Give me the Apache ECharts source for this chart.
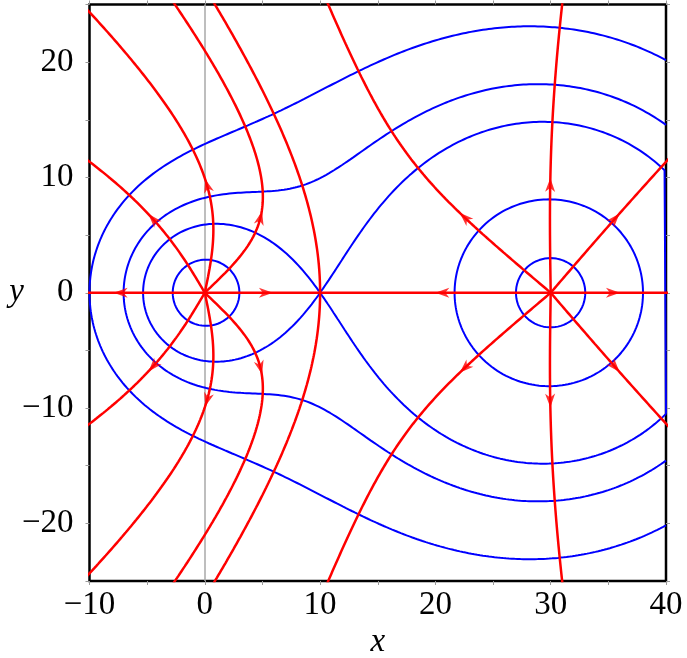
<!DOCTYPE html>
<html><head><meta charset="utf-8">
<script src="https://cdn.jsdelivr.net/npm/echarts@6/dist/echarts.min.js"></script>
<style>html,body{margin:0;padding:0;background:#fff}#c{width:687px;height:658px}</style>
</head><body><div id="c"></div>
<script>
// ---- data ----
// point charges (3D Coulomb field): positions on the x-axis and strengths
const chargeX = [0, 30];
const chargeY = [0, 0];
const chargeQ = [1, 4];
// equipotential levels; which charge's loop to keep (-1 = all loops); closed along right frame
const contourLevels = [0.2, 0.25, 0.3, 0.4815, 0.526, 1.365];
const contourAround = [-1, -1, -1, 0, 1, 1];
const contourCloseRight = [false, false, true, false, false, false];
// field lines (upper half, mirrored): source charge index, start angle (deg), arrow arc position
const lineCharge = [0, 0, 0, 0, 0, 1, 1, 1, 1, 1];
const lineAngle = [0, 43.7, 78.3, 120.55, 180, 0, 49.35, 90.9, 139.7, 180];
const lineArrow = [5.3, 8.2, 9.4, 7.8, 7.3, 5.4, 8.5, 9.35, 9.9, 9.4];
// axes
const xRange = [-10, 40];
const yRange = [-25, 25];
const xTickLabels = [-10, 0, 10, 20, 30, 40];
const yTickLabels = [-20, -10, 0, 10, 20];

// ---- physics helpers ----
function potential(x, y) {
  let v = 0;
  for (let i = 0; i < chargeQ.length; i++) {
    const r = Math.hypot(x - chargeX[i], y - chargeY[i]);
    v += chargeQ[i] / Math.max(r, 1e-6);
  }
  return v;
}
function dir(x, y) {
  let ex = 0, ey = 0;
  for (let i = 0; i < chargeQ.length; i++) {
    const dx = x - chargeX[i], dy = y - chargeY[i];
    const r2 = dx * dx + dy * dy, r = Math.sqrt(r2);
    const f = chargeQ[i] / (r2 * r);
    ex += f * dx; ey += f * dy;
  }
  const m = Math.hypot(ex, ey) || 1e-30;
  return [ex / m, ey / m];
}
function trace(x, y) {
  const h = 0.02;
  const pts = [[x, y]];
  let prev = dir(x, y);
  for (let n = 0; n < 8000; n++) {
    const k1 = prev;
    const k2 = dir(x + h / 2 * k1[0], y + h / 2 * k1[1]);
    const k3 = dir(x + h / 2 * k2[0], y + h / 2 * k2[1]);
    const k4 = dir(x + h * k3[0], y + h * k3[1]);
    const nx = x + h / 6 * (k1[0] + 2 * k2[0] + 2 * k3[0] + k4[0]);
    const ny = y + h / 6 * (k1[1] + 2 * k2[1] + 2 * k3[1] + k4[1]);
    const d = dir(nx, ny);
    if (d[0] * prev[0] + d[1] * prev[1] < 0) { pts.push([nx, ny]); break; }
    x = nx; y = ny; prev = d;
    if (n % 3 === 2) pts.push([x, y]);
    if (x < xRange[0] - 0.5 || x > xRange[1] + 0.5 || y < yRange[0] - 0.5 || y > yRange[1] + 0.5) { pts.push([x, y]); break; }
  }
  return pts;
}
function pointAt(pts, s) {
  let acc = 0;
  for (let i = 1; i < pts.length; i++) {
    const dx = pts[i][0] - pts[i - 1][0], dy = pts[i][1] - pts[i - 1][1];
    const l = Math.hypot(dx, dy);
    if (acc + l >= s) {
      const t = (s - acc) / l;
      return [pts[i - 1][0] + t * dx, pts[i - 1][1] + t * dy, Math.atan2(dy, dx) * 180 / Math.PI];
    }
    acc += l;
  }
  return null;
}

// ---- marching squares for equipotentials ----
const NX = 400, NY = 400;
const gdx = (xRange[1] - xRange[0]) / NX, gdy = (yRange[1] - yRange[0]) / NY;
const grid = new Float64Array((NX + 1) * (NY + 1));
for (let j = 0; j <= NY; j++) for (let i = 0; i <= NX; i++)
  grid[j * (NX + 1) + i] = Math.min(potential(xRange[0] + i * gdx, yRange[0] + j * gdy), 1e6);
function gv(i, j) { return grid[j * (NX + 1) + i]; }

function contourChains(L) {
  const segs = [];
  const keyMap = new Map();
  function edgePoint(e, i, j) {
    let ia, ja, ib, jb, key;
    if (e === 0) { ia = i; ja = j; ib = i + 1; jb = j; key = 'h' + i + '_' + j; }
    else if (e === 1) { ia = i + 1; ja = j; ib = i + 1; jb = j + 1; key = 'v' + (i + 1) + '_' + j; }
    else if (e === 2) { ia = i; ja = j + 1; ib = i + 1; jb = j + 1; key = 'h' + i + '_' + (j + 1); }
    else { ia = i; ja = j; ib = i; jb = j + 1; key = 'v' + i + '_' + j; }
    const va = gv(ia, ja), vb = gv(ib, jb);
    const t = (L - va) / (vb - va);
    const xa = xRange[0] + ia * gdx, ya = yRange[0] + ja * gdy;
    const xb = xRange[0] + ib * gdx, yb = yRange[0] + jb * gdy;
    return { key, p: [xa + t * (xb - xa), ya + t * (yb - ya)] };
  }
  function add(e1, e2, i, j) {
    const a = edgePoint(e1, i, j), b = edgePoint(e2, i, j);
    const id = segs.length;
    segs.push([a, b]);
    [a.key, b.key].forEach(k => { if (!keyMap.has(k)) keyMap.set(k, []); keyMap.get(k).push(id); });
  }
  for (let j = 0; j < NY; j++) for (let i = 0; i < NX; i++) {
    const v00 = gv(i, j), v10 = gv(i + 1, j), v11 = gv(i + 1, j + 1), v01 = gv(i, j + 1);
    const c = (v00 > L ? 1 : 0) | (v10 > L ? 2 : 0) | (v11 > L ? 4 : 0) | (v01 > L ? 8 : 0);
    if (c === 0 || c === 15) continue;
    const ctr = (v00 + v10 + v11 + v01) / 4 > L;
    switch (c) {
      case 1: case 14: add(3, 0, i, j); break;
      case 2: case 13: add(0, 1, i, j); break;
      case 3: case 12: add(3, 1, i, j); break;
      case 4: case 11: add(1, 2, i, j); break;
      case 6: case 9: add(0, 2, i, j); break;
      case 7: case 8: add(3, 2, i, j); break;
      case 5: if (ctr) { add(0, 1, i, j); add(2, 3, i, j); } else { add(3, 0, i, j); add(1, 2, i, j); } break;
      case 10: if (ctr) { add(3, 0, i, j); add(1, 2, i, j); } else { add(0, 1, i, j); add(2, 3, i, j); } break;
    }
  }
  const used = new Uint8Array(segs.length);
  const chains = [];
  function extend(chain, key, front) {
    while (true) {
      const list = keyMap.get(key) || [];
      let next = -1;
      for (const id of list) if (!used[id]) { next = id; break; }
      if (next < 0) return;
      used[next] = 1;
      const [a, b] = segs[next];
      const o = a.key === key ? b : a;
      if (front) chain.unshift(o.p); else chain.push(o.p);
      key = o.key;
    }
  }
  for (let s = 0; s < segs.length; s++) {
    if (used[s]) continue;
    used[s] = 1;
    const chain = [segs[s][0].p, segs[s][1].p];
    extend(chain, segs[s][1].key, false);
    extend(chain, segs[s][0].key, true);
    chains.push(chain);
  }
  return chains;
}

const series = [];
// gray zero lines
series.push({
  type: 'line', data: [], z: 1, silent: true,
  markLine: {
    z: 1, silent: true, symbol: ['none', 'none'], label: { show: false },
    lineStyle: { color: '#a8a8a8', width: 1.5, type: 'solid' },
    data: [{ xAxis: 0 }, { yAxis: 0 }], animation: false
  }
});

contourLevels.forEach((L, k) => {
  const chains = contourChains(L);
  chains.forEach(ch => {
    if (ch.length < 3) return;
    if (contourAround[k] >= 0) {
      let cx = 0, cy = 0;
      ch.forEach(p => { cx += p[0]; cy += p[1]; });
      cx /= ch.length; cy /= ch.length;
      let best = 0, bd = Infinity;
      chargeX.forEach((qx, i) => { const d = Math.hypot(cx - qx, cy - chargeY[i]); if (d < bd) { bd = d; best = i; } });
      if (best !== contourAround[k]) return;
    }
    const data = ch.slice();
    if (contourCloseRight[k]) {
      const a = data[0], b = data[data.length - 1];
      if (Math.abs(a[0] - xRange[1]) < 1e-6 && Math.abs(b[0] - xRange[1]) < 1e-6) data.push(a);
    }
    series.push({
      type: 'line', data, showSymbol: false, silent: true, z: 2, clip: true,
      lineStyle: { color: '#0000ff', width: 2 }
    });
  });
});

const arrows = [];
function addLine(pts, arrowS) {
  series.push({
    type: 'line', data: pts, showSymbol: false, silent: true, z: 3, clip: true,
    lineStyle: { color: '#ff0000', width: 2.5 }
  });
  if (arrowS != null) {
    const a = pointAt(pts, arrowS);
    if (a) arrows.push(a);
  }
}
lineCharge.forEach((ci, k) => {
  const angs = (lineAngle[k] === 0 || lineAngle[k] === 180) ? [lineAngle[k]] : [lineAngle[k], -lineAngle[k]];
  angs.forEach(ad => {
    const a = ad * Math.PI / 180;
    let s = Math.sin(a); if (Math.abs(s) < 1e-9) s = 0;
    const x0 = chargeX[ci] + 0.02 * Math.cos(a), y0 = chargeY[ci] + 0.02 * s;
    const pts = [[chargeX[ci], chargeY[ci]]].concat(trace(x0, y0));
    addLine(pts, lineArrow[k]);
  });
});
// separatrix lines leaving the null point between the charges
const xs = chargeX[0] + (chargeX[1] - chargeX[0]) / (1 + Math.sqrt(chargeQ[1] / chargeQ[0]));
[1, -1].forEach(sg => {
  const pts = [[xs, 0]].concat(trace(xs, 0.01 * sg));
  addLine(pts, null);
});

series.push({
  type: 'scatter', data: arrows, z: 5, silent: true,
  symbol: 'path://M0,0 L6,14 L0,10 L-6,14 Z',
  symbolSize: [10, 14],
  symbolRotate: (v) => v[2] - 90,
  itemStyle: { color: '#ff0000' }
});

const fmt = v => (v < 0 ? '\u2212' + (-v) : String(v));
const font = 'Liberation Serif';
const tickStyle = { show: true, inside: false, length: 4, lineStyle: { color: '#999', width: 1 } };
const noLine = { show: false, onZero: false };
const option = {
  animation: false,
  backgroundColor: '#fff',
  grid: { left: 89.5, right: 21, top: 4.5, bottom: 77, show: true, borderColor: '#000', borderWidth: 2.5,
          backgroundColor: 'transparent', containLabel: false, outerBoundsMode: 'none' },
  xAxis: [
    {
      type: 'value', min: xRange[0], max: xRange[1], interval: 5, position: 'bottom',
      axisLine: noLine, axisTick: tickStyle, splitLine: { show: false },
      axisLabel: { formatter: v => xTickLabels.includes(v) ? fmt(v) : '', fontFamily: font, fontSize: 33, color: '#000', margin: 8 },
      name: 'x', nameLocation: 'middle', nameGap: 45, nameMoveOverlap: false,
      nameTextStyle: { fontFamily: font, fontStyle: 'italic', fontSize: 33, color: '#000' }
    },
    {
      type: 'value', min: xRange[0], max: xRange[1], interval: 5, position: 'top',
      axisLine: noLine, axisTick: tickStyle, splitLine: { show: false }, axisLabel: { show: false }
    }
  ],
  yAxis: [
    {
      type: 'value', min: yRange[0], max: yRange[1], interval: 5, position: 'left',
      axisLine: noLine, axisTick: tickStyle, splitLine: { show: false },
      axisLabel: { formatter: v => yTickLabels.includes(v) ? fmt(v) : '', fontFamily: font, fontSize: 33, color: '#000', margin: 16 },
      name: 'y', nameLocation: 'middle', nameGap: 73, nameRotate: 0, nameMoveOverlap: false,
      nameTextStyle: { fontFamily: font, fontStyle: 'italic', fontSize: 33, color: '#000', align: 'center', verticalAlign: 'middle' }
    },
    {
      type: 'value', min: yRange[0], max: yRange[1], interval: 5, position: 'right',
      axisLine: noLine, axisTick: tickStyle, splitLine: { show: false }, axisLabel: { show: false }
    }
  ],
  series
};
const chart = echarts.init(document.getElementById('c'));
chart.setOption(option);
</script>
</body></html>
